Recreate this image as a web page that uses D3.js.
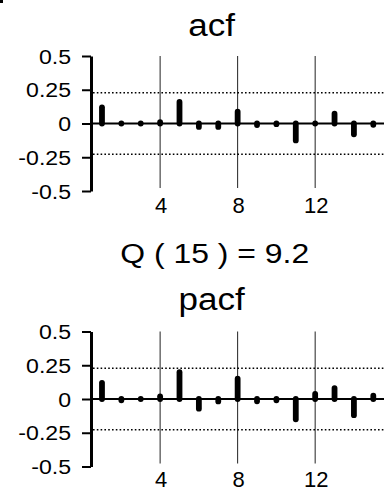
<!DOCTYPE html>
<html><head><meta charset="utf-8">
<script src="https://cdn.jsdelivr.net/npm/d3@7"></script>
<style>html,body{margin:0;padding:0;background:#fff;}svg{display:block;font-family:"Liberation Sans",Arial,sans-serif;}</style>
</head><body>
<script>
const lags = [1,2,3,4,5,6,7,8,9,10,11,12,13,14,15];
const acfValues = [0.12,0,0,0.01,0.16,-0.025,-0.025,0.087,-0.012,-0.005,-0.125,0,0.073,-0.08,-0.01];
const pacfValues = [0.12,-0.01,0,0.02,0.198,-0.072,-0.018,0.15,-0.017,-0.01,-0.15,0.037,0.081,-0.12,0.024];
const yTicks = [0.5,0.25,0,-0.25,-0.5];
const yTickLabels = ["0.5","0.25","0","-0.25","-0.5"];
const xTicks = [4,8,12];
const confBand = 0.228;
const qLabel = "Q ( 15 ) = 9.2";

const W = 384, H = 492;
const svg = d3.select("body").append("svg").attr("width", W).attr("height", H);

svg.append("rect").attr("x",0).attr("y",0).attr("width",3).attr("height",3).attr("fill","#000");

const x = d3.scaleLinear().domain([0,15]).range([82.6,373.3]);
const axisX = 91;

function stretchedText(g, tx, ty, txt, size, sx, anchor){
  return g.append("text")
    .attr("transform",`translate(${tx},${ty}) scale(${sx},1)`)
    .attr("text-anchor",anchor).attr("font-size",size).attr("fill","#000").text(txt);
}

function panel(title, titleY, values, yTop, yBot, xLabelY){
  const y = d3.scaleLinear().domain([-0.5,0.5]).range([yBot,yTop]);
  const g = svg.append("g");
  stretchedText(g, 211.7, titleY, title, 31, 1.13, "middle");
  g.selectAll(".grid").data(xTicks).join("line")
    .attr("x1",d=>x(d)).attr("x2",d=>x(d))
    .attr("y1",y(0.5)).attr("y2",y(-0.5)-3)
    .attr("stroke","#222").attr("stroke-width",1);
  [confBand,-confBand].forEach(c=>{
    g.append("line").attr("x1",93).attr("x2",W).attr("y1",y(c)).attr("y2",y(c))
      .attr("stroke","#000").attr("stroke-width",1.6).attr("stroke-dasharray","1.6 2.2");
  });
  g.append("line").attr("x1",axisX).attr("x2",W).attr("y1",y(0)).attr("y2",y(0))
    .attr("stroke","#000").attr("stroke-width",2.2);
  g.selectAll(".bar").data(lags).join("line")
    .attr("x1",(d)=>x(d)).attr("x2",(d)=>x(d))
    .attr("y1",y(0)).attr("y2",(d,i)=>y(values[i]))
    .attr("stroke","#000").attr("stroke-width",5.8).attr("stroke-linecap","round");
  const ax = d3.axisLeft(y).tickValues(yTicks).tickFormat("")
    .tickSizeInner(9).tickSizeOuter(0);
  const ag = g.append("g").attr("transform",`translate(${axisX},0)`).call(ax);
  ag.select(".domain").attr("stroke","#000").attr("stroke-width",3);
  ag.selectAll(".tick line").attr("stroke","#000").attr("stroke-width",2);
  yTicks.forEach((t,i)=>{
    stretchedText(g, 71, y(t)+7.5, yTickLabels[i], 21, 1.1, "end");
  });
  xTicks.forEach(t=>{
    g.append("text").attr("x",x(t)+1).attr("y",xLabelY).attr("text-anchor","middle")
      .attr("font-size",22).attr("fill","#000").text(t);
  });
}

panel("acf", 36, acfValues, 56, 191, 212.5);
stretchedText(svg, 214.7, 263.3, qLabel, 28, 1.14, "middle");
panel("pacf", 310, pacfValues, 331.5, 466.5, 487);
</script>
</body></html>
